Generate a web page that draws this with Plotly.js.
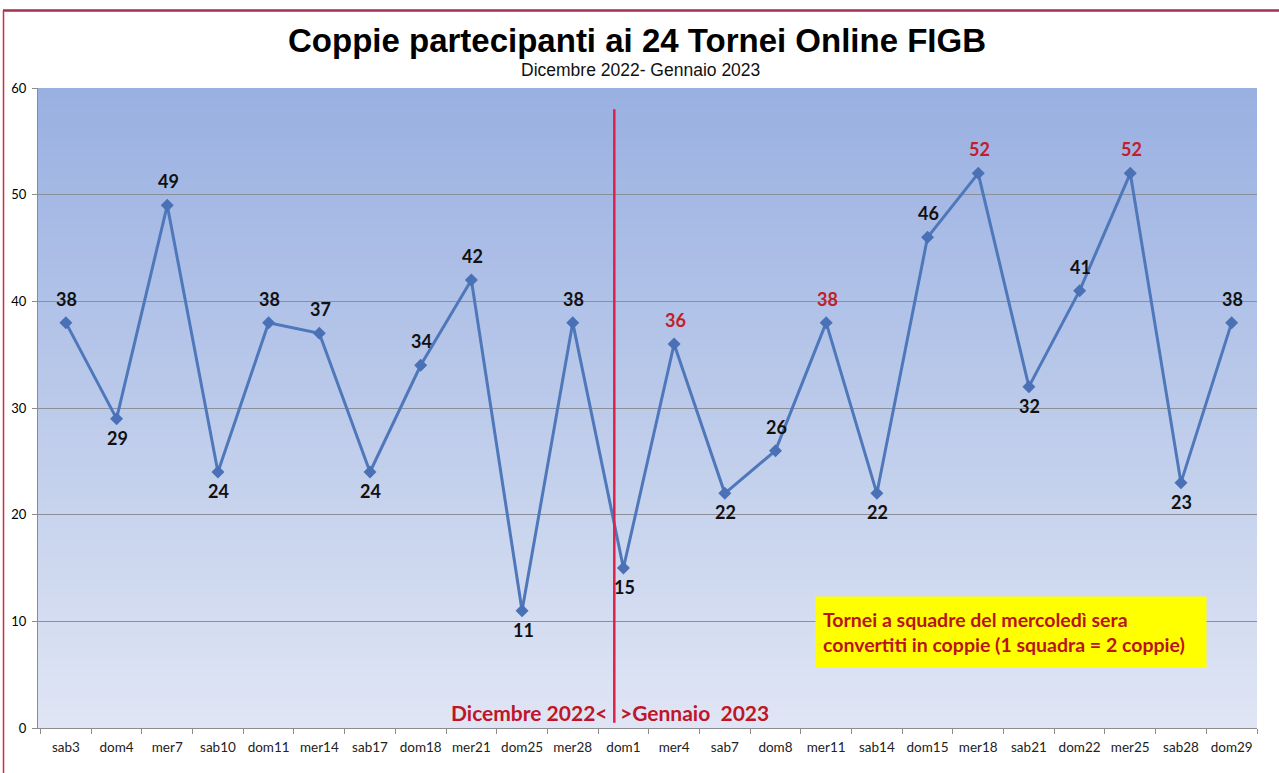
<!DOCTYPE html>
<html>
<head>
<meta charset="utf-8">
<script src="https://cdn.plot.ly/plotly-3.0.1.min.js"></script>
<style>html,body{margin:0;padding:0;background:#fff;}#chart{width:1279px;height:773px;}</style>
</head>
<body>
<div id="chart"></div>
<script>
// ---- data ----
const giorni = ['sab3','dom4','mer7','sab10','dom11','mer14','sab17','dom18','mer21','dom25','mer28','dom1',
                'mer4','sab7','dom8','mer11','sab14','dom15','mer18','sab21','dom22','mer25','sab28','dom29'];
const coppie = [38,29,49,24,38,37,24,34,42,11,38,15,36,22,26,38,22,46,52,32,41,52,23,38];
const convertiti = ['mer4','mer11','mer18','mer25'];
const titolo = 'Coppie partecipanti ai 24 Tornei Online FIGB';
const sottotitolo = 'Dicembre 2022- Gennaio 2023';
const etichettaSinistra = 'Dicembre 2022<';
const etichettaDestra = '>Gennaio&nbsp;&nbsp;2023';
const notaRighe = ['Tornei a squadre del mercoledì sera', 'convertiti in coppie (1 squadra = 2 coppie)'];
const posizioneSeparatore = 10.82; // between mer28 and dom1 (category index)
const altezzaSeparatore = 58;

// ---- layout helpers ----
const W = 1279, H = 773, L = 38, R = 22, T = 88, B = 45;
const pw = W - L - R, ph = H - T - B;
const px2x = v => (v - L) / pw;
const px2y = v => (H - B - v) / ph;

const shapes = [];
// vertical gradient background
const colTop = [153, 176, 225], colBot = [223, 229, 244];
const steps = 64;
for (let i = 0; i < steps; i++) {
  const f = i / (steps - 1);
  const c = colTop.map((t, k) => Math.round(t + (colBot[k] - t) * f));
  shapes.push({type:'rect', xref:'x domain', yref:'y domain', x0:0, x1:1,
    y0: Math.max(0, 1 - (i + 1) / steps - 0.004), y1: 1 - i / steps, fillcolor:`rgb(${c.join(',')})`,
    line:{width:0}, layer:'below'});
}
// separator line
shapes.push({type:'line', xref:'x', yref:'y', x0:posizioneSeparatore, x1:posizioneSeparatore,
  y0:0.5, y1:altezzaSeparatore, line:{color:'#e0204a', width:2.5}, layer:'above'});
// outer frame (top maroon, left red)
shapes.push({type:'line', xref:'paper', yref:'paper', x0:px2x(3), x1:px2x(1282), y0:px2y(10.5), y1:px2y(10.5),
  line:{color:'#a33050', width:2.5}});
shapes.push({type:'line', xref:'paper', yref:'paper', x0:px2x(3.5), x1:px2x(3.5), y0:px2y(10), y1:px2y(780),
  line:{color:'#d42a3a', width:1.5}});

const annotations = [];
// data labels
coppie.forEach((v, i) => {
  const prev = i > 0 ? coppie[i - 1] : -Infinity;
  const next = i < coppie.length - 1 ? coppie[i + 1] : -Infinity;
  const below = v < prev && v < next && i > 0 && i < coppie.length - 1;
  annotations.push({x: giorni[i], y: v, xref:'x', yref:'y', text: String(v), showarrow:false,
    yshift: below ? -19 : 24, xshift: 1,
    font:{family:'Lato, "Open Sans", sans-serif', size:18, weight:700,
      color: convertiti.includes(giorni[i]) ? '#c0202a' : '#111'}});
});
// titles
annotations.push({xref:'paper', yref:'paper', x:px2x(637), y:px2y(41), text:titolo, showarrow:false,
  xanchor:'center', yanchor:'middle',
  font:{family:'"Liberation Sans", Arial, sans-serif', size:33, weight:700, color:'#000'}});
annotations.push({xref:'paper', yref:'paper', x:px2x(640), y:px2y(69.5), text:sottotitolo, showarrow:false,
  xanchor:'center', yanchor:'middle',
  font:{family:'"Liberation Sans", Arial, sans-serif', size:17.5, color:'#111'}});
// separator labels
annotations.push({xref:'x', yref:'paper', x:posizioneSeparatore, y:px2y(712), text:etichettaSinistra, showarrow:false,
  xanchor:'right', yanchor:'middle', xshift:-4,
  font:{family:'Lato, sans-serif', size:21, weight:700, color:'#c0142a'}});
annotations.push({xref:'x', yref:'paper', x:posizioneSeparatore, y:px2y(712), text:etichettaDestra, showarrow:false,
  xanchor:'left', yanchor:'middle', xshift:4,
  font:{family:'Lato, sans-serif', size:21, weight:700, color:'#c0142a'}});
// note box
annotations.push({xref:'paper', yref:'paper', x:px2x(815), y:px2y(596), xanchor:'left', yanchor:'top',
  text: notaRighe.join('<br>'), showarrow:false, align:'left', bgcolor:'#ffff00',
  width:376, height:56, borderpad:7,
  font:{family:'Lato, sans-serif', size:19.5, weight:700, color:'#b8141e'}});

const trace = {
  type:'scatter', mode:'lines+markers', x: giorni, y: coppie,
  line:{color:'#4f78bb', width:3},
  marker:{symbol:'diamond', size:10, color:'#4a70b6'},
  hoverinfo:'x+y', showlegend:false
};

const layout = {
  width: W, height: H,
  margin:{l:L, r:R, t:T, b:B, pad:0},
  paper_bgcolor:'#ffffff', plot_bgcolor:'rgba(0,0,0,0)',
  showlegend:false,
  xaxis:{type:'category', range:[-0.55, giorni.length - 0.5], tickson:'boundaries',
    ticks:'outside', ticklen:5, tickcolor:'#8c8c8c', showline:true, linecolor:'#8c8c8c', linewidth:1,
    showgrid:false, zeroline:false, fixedrange:true, ticklabelstandoff:7, tickangle:0,
    tickfont:{family:'Lato, "Open Sans", sans-serif', size:13.5, color:'#222'}},
  yaxis:{range:[0,60], dtick:10, ticks:'outside', ticklen:5, tickcolor:'#8c8c8c',
    showline:true, linecolor:'#8c8c8c', linewidth:1, showgrid:true, gridcolor:'#8a8f99', gridwidth:1,
    zeroline:false, fixedrange:true, ticklabelstandoff:3,
    tickfont:{family:'Lato, "Open Sans", sans-serif', size:13, color:'#000'}},
  shapes: shapes,
  annotations: annotations
};

Plotly.newPlot('chart', [trace], layout, {displayModeBar:false, staticPlot:true});
</script>
</body>
</html>
